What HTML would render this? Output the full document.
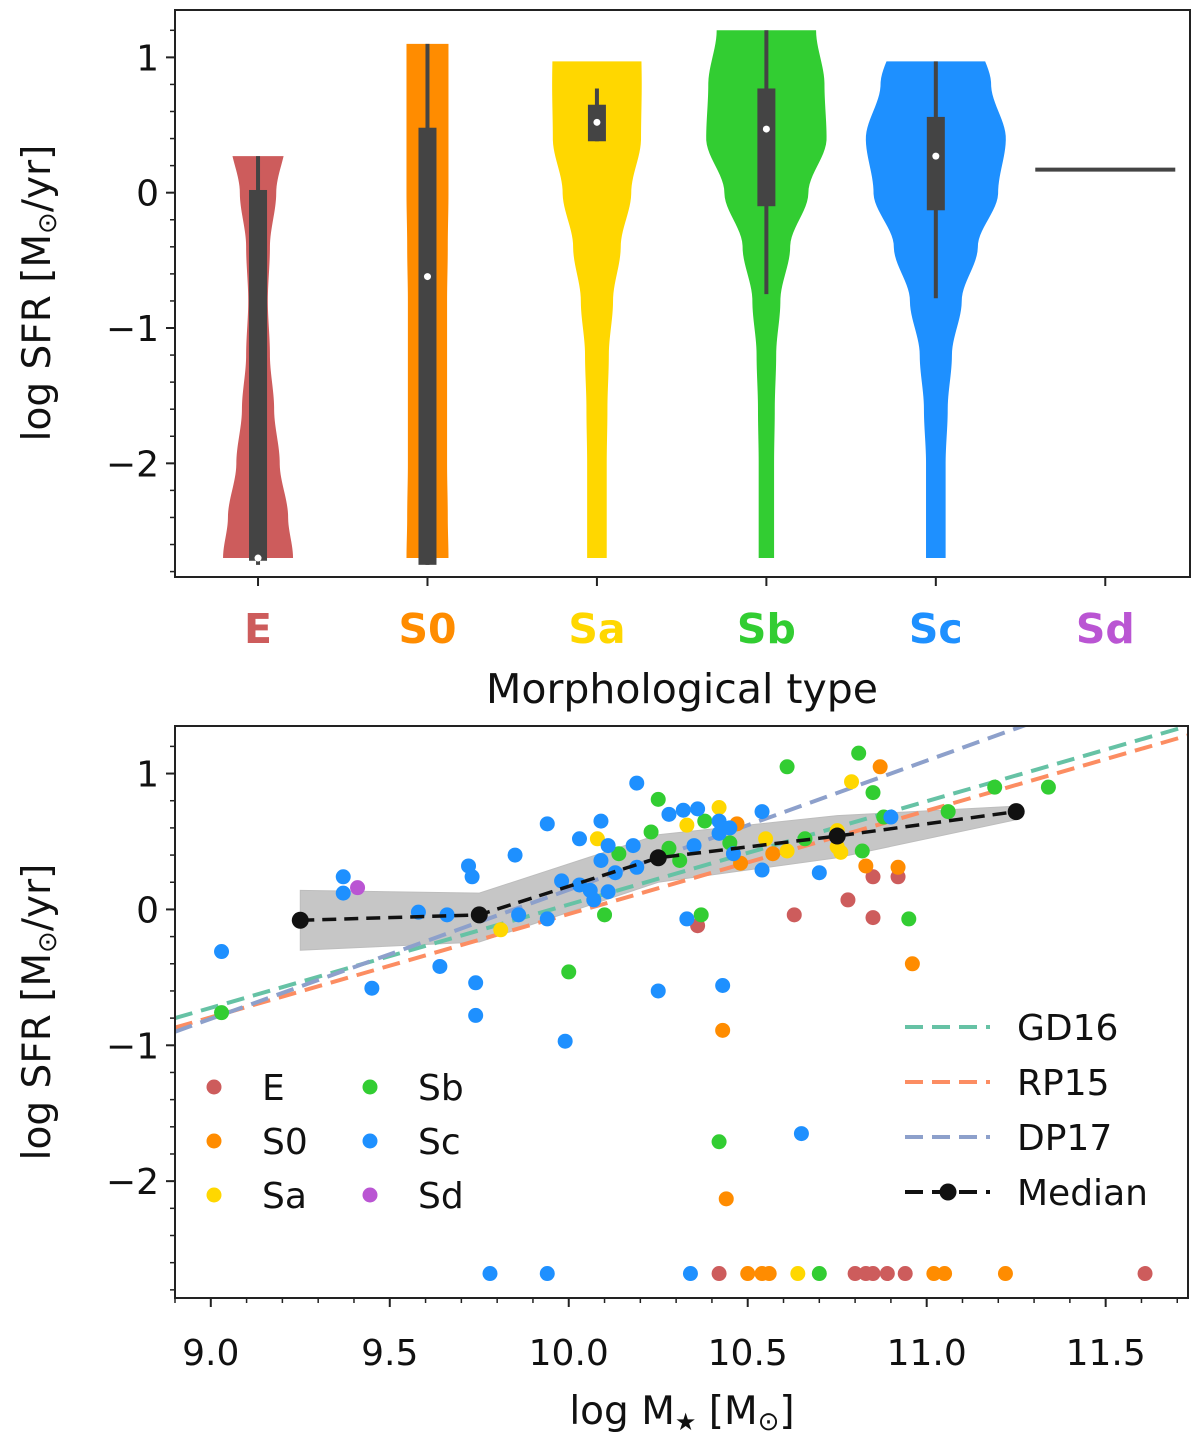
<!DOCTYPE html>
<html><head><meta charset="utf-8"><style>
body{margin:0;background:#fff}
svg{display:block;font-family:"DejaVu Sans","Liberation Sans",sans-serif}
</style></head><body>
<svg id="fig" width="1200" height="1443" viewBox="0 0 1200 1443">
<g id="topPanel"></g>
<g id="botPanel"></g>
</svg>
<script>
// ---------- data: violin panel ----------
const categories = ["E","S0","Sa","Sb","Sc","Sd"];
const catColors = ["#cd5c5c","#ff8c00","#ffd700","#32cd32","#1e90ff","#ba55d3"];
const densityLevels = [-2.7,-2.4,-2.0,-1.6,-1.2,-0.8,-0.4,0.0,0.4,0.8,1.2];
const densE  = [.50,.43,.31,.23,.17,.14,.17,.26,.40,.40,.40];
const densS0 = [.30,.29,.28,.28,.28,.28,.29,.30,.30,.30,.30];
const densSa = [.14,.14,.14,.15,.17,.23,.34,.49,.63,.64,.63];
const densSb = [.11,.11,.11,.12,.14,.20,.34,.60,.86,.83,.71];
const densSc = [.14,.14,.14,.17,.23,.37,.60,.89,1.0,.79,.57];
const violinMin = [-2.7,-2.7,-2.7,-2.7,-2.7];
const violinMax = [0.27,1.1,0.97,1.2,0.97];
const whiskLo = [-2.75,-2.75,0.38,-0.75,-0.78];
const whiskHi = [0.27,1.1,0.77,1.2,0.97];
const q1 = [-2.72,-2.75,0.38,-0.1,-0.13];
const q3 = [0.02,0.48,0.65,0.77,0.56];
const medians = [-2.7,-0.62,0.52,0.47,0.27];
const sdValue = 0.17;
const topYTicks = [1,0,-1,-2];

// ---------- data: scatter panel ----------
const xTicks = [9.0,9.5,10.0,10.5,11.0,11.5];
const yTicks = [1,0,-1,-2];
const ptType = [];
const ptX = [];
const ptY = [];
function P(t,arr){for(let i=0;i<arr.length;i+=2){ptType.push(t);ptX.push(arr[i]);ptY.push(arr[i+1]);}}
const sE  = [10.36,-0.12,10.63,-0.04,10.78,0.07,10.85,-0.06,10.85,0.24,10.92,0.24,
  10.42,-2.68,10.80,-2.68,10.83,-2.68,10.85,-2.68,10.89,-2.68,10.94,-2.68,11.61,-2.68];
const sS0 = [10.47,0.63,10.48,0.34,10.57,0.41,10.83,0.32,10.87,1.05,10.92,0.31,10.96,-0.40,
  10.43,-0.89,10.44,-2.13,10.50,-2.68,10.54,-2.68,10.56,-2.68,11.02,-2.68,11.05,-2.68,11.22,-2.68];
const sSa = [9.81,-0.15,10.08,0.52,10.33,0.62,10.42,0.75,10.55,0.52,10.61,0.43,10.75,0.58,10.75,0.46,
  10.76,0.42,10.79,0.94,10.64,-2.68];
const sSb = [9.03,-0.76,10.00,-0.46,10.10,-0.04,10.14,0.41,10.23,0.57,10.25,0.81,10.28,0.45,10.31,0.36,
  10.38,0.65,10.37,-0.04,10.45,0.49,10.61,1.05,10.66,0.52,10.81,1.15,10.82,0.43,10.85,0.86,10.88,0.68,
  10.95,-0.07,11.06,0.72,11.19,0.90,11.34,0.90,10.42,-1.71,10.70,-2.68];
const sSc = [9.03,-0.31,9.37,0.24,9.37,0.12,9.45,-0.58,9.58,-0.02,9.64,-0.42,9.66,-0.04,9.72,0.32,9.73,0.24,
  9.74,-0.54,9.74,-0.78,9.85,0.40,9.86,-0.04,9.94,0.63,9.94,-0.07,9.99,-0.97,9.98,0.21,10.03,0.52,10.09,0.65,
  10.11,0.47,10.18,0.47,10.19,0.31,10.09,0.36,10.06,0.14,10.07,0.07,10.11,0.13,10.03,0.18,10.13,0.27,
  10.19,0.93,10.28,0.70,10.32,0.73,10.36,0.74,10.25,-0.60,10.33,-0.07,10.35,0.47,10.42,0.65,10.45,0.60,
  10.42,0.56,10.46,0.41,10.54,0.72,10.54,0.29,10.70,0.27,10.90,0.68,10.43,-0.56,10.65,-1.65,
  9.78,-2.68,9.94,-2.68,10.34,-2.68];
const sSd = [9.41,0.16];
P(0,sE);P(1,sS0);P(2,sSa);P(3,sSb);P(4,sSc);P(5,sSd);
const medX = [9.25,9.75,10.25,10.75,11.25];
const medY = [-0.08,-0.04,0.38,0.54,0.72];
const bandLo = [-0.30,-0.24,0.20,0.38,0.66];
const bandHi = [0.14,0.12,0.55,0.69,0.76];
const relNames = ["GD16","RP15","DP17"];
const relSlope = [0.76,0.76,0.95];
const relIcpt = [-0.80,-0.87,-0.90]; // value at log M = 8.9
const relColors = ["#66c2a5","#fc8d62","#8da0cb"];

// ---------- helpers ----------
const NS="http://www.w3.org/2000/svg";
function mk(parent,tag,attrs){const e=document.createElementNS(NS,tag);for(const k in attrs)e.setAttribute(k,attrs[k]);parent.appendChild(e);return e;}

// ---------- top panel ----------
const topG=document.getElementById('topPanel');
const TX0=175,TX1=1190,TY0=10,TY1=577;
const ty=v=>TY0+(1.35-v)/(1.35+2.84)*(TY1-TY0);
const tx=i=>TX0+(i+0.49)/5.99*(TX1-TX0);
const dens=[densE,densS0,densSa,densSb,densSc];
function interp(arr,v){for(let i=0;i<densityLevels.length-1;i++){if(v<=densityLevels[i+1]){let f=(v-densityLevels[i])/(densityLevels[i+1]-densityLevels[i]);f=f*f*(3-2*f);return arr[i]+f*(arr[i+1]-arr[i]);}}return arr[arr.length-1];}
for(let i=0;i<5;i++){
  const cx=tx(i);const L=[],R=[];
  for(let k=0;k<=120;k++){const v=violinMin[i]+(violinMax[i]-violinMin[i])*k/120;const w=interp(dens[i],Math.max(-2.7,v))*70;R.push([cx+w,ty(v)]);L.push([cx-w,ty(v)]);}
  const pts=R.concat(L.reverse()).map(p=>p.join(',')).join(' ');
  const v=mk(topG,'polygon',{points:pts,fill:catColors[i]});
  
  
  const w=mk(topG,'line',{x1:cx,x2:cx,y1:ty(whiskLo[i]),y2:ty(whiskHi[i]),stroke:'#444',"stroke-width":4});
  
  
  const b=mk(topG,'rect',{x:cx-9,y:ty(q3[i]),width:18,height:Math.max(2,ty(q1[i])-ty(q3[i])),fill:'#444'});
  
  
  const m=mk(topG,'circle',{cx:cx,cy:ty(medians[i]),r:3.5,fill:'#fff'});
  
  
}
const sd=mk(topG,'line',{x1:tx(5)-70,x2:tx(5)+70,y1:ty(sdValue),y2:ty(sdValue),stroke:'#444',"stroke-width":4});


mk(topG,'rect',{x:TX0,y:TY0,width:TX1-TX0,height:TY1-TY0,fill:'none',stroke:'#222',"stroke-width":2});
for(let v=-2.8;v<=1.3;v+=0.2){const y=ty(v);mk(topG,'line',{x1:TX0,x2:TX0-5,y1:y,y2:y,stroke:'#222',"stroke-width":1.5});}
topYTicks.forEach(v=>{const y=ty(v);mk(topG,'line',{x1:TX0,x2:TX0-9,y1:y,y2:y,stroke:'#222',"stroke-width":2});
  const t=mk(topG,'text',{x:TX0-16,y:y+13,"font-size":36,"text-anchor":"end",fill:'#111'});t.textContent=v<0?'\u2212'+(-v):String(v);
  
  });
categories.forEach((c,i)=>{const x=tx(i);mk(topG,'line',{x1:x,x2:x,y1:TY1,y2:TY1+9,stroke:'#222',"stroke-width":2});
  const t=mk(topG,'text',{x:x,y:643,"font-size":41,"font-weight":"bold","text-anchor":"middle",fill:catColors[i]});t.textContent=c;
  
  });
let tt=mk(topG,'text',{x:682,y:703,"font-size":41,"text-anchor":"middle",fill:'#111'});tt.textContent='Morphological type';


tt=mk(topG,'text',{transform:'translate(50,293) rotate(-90)',"font-size":39,"text-anchor":"middle",fill:'#111'});
tt.innerHTML='log SFR [M<tspan font-size="26" dy="6">\u2299</tspan><tspan dy="-6">/yr]</tspan>';



// ---------- bottom panel ----------
const botG=document.getElementById('botPanel');
const BX0=175,BX1=1188,BY0=726,BY1=1298;
const XMIN=8.9,XMAX=11.73,YMIN=-2.86,YMAX=1.35;
const bx=v=>BX0+(v-XMIN)/(XMAX-XMIN)*(BX1-BX0);
const by=v=>BY0+(YMAX-v)/(YMAX-YMIN)*(BY1-BY0);
const clip=mk(botG,'clipPath',{id:'clipB'});
mk(clip,'rect',{x:BX0,y:BY0,width:BX1-BX0,height:BY1-BY0});
const plot=mk(botG,'g',{"clip-path":"url(#clipB)"});
let bp=medX.map((x,i)=>bx(x)+','+by(bandHi[i])).concat(medX.map((x,i)=>bx(x)+','+by(bandLo[i])).reverse()).join(' ');
const band=mk(plot,'polygon',{points:bp,fill:'#999',opacity:0.55,stroke:'#888',"stroke-width":1});


relNames.forEach((n,i)=>{const l=mk(plot,'line',{x1:bx(XMIN),y1:by(relIcpt[i]),x2:bx(XMAX),y2:by(relIcpt[i]+relSlope[i]*(XMAX-XMIN)),stroke:relColors[i],"stroke-width":4,"stroke-dasharray":"18 9"});
  
  });
for(let i=0;i<ptX.length;i++){const c=mk(plot,'circle',{cx:bx(ptX[i]),cy:by(ptY[i]),r:7.5,fill:catColors[ptType[i]]});
  
  }
const ml=mk(plot,'polyline',{points:medX.map((x,i)=>bx(x)+','+by(medY[i])).join(' '),fill:'none',stroke:'#111',"stroke-width":3.5,"stroke-dasharray":"14 8"});


medX.forEach((x,i)=>{const c=mk(plot,'circle',{cx:bx(x),cy:by(medY[i]),r:8.5,fill:'#111'});
  
  });
mk(botG,'rect',{x:BX0,y:BY0,width:BX1-BX0,height:BY1-BY0,fill:'none',stroke:'#222',"stroke-width":2});
for(let v=8.9;v<=11.71;v+=0.1){const x=bx(v);mk(botG,'line',{x1:x,x2:x,y1:BY1,y2:BY1+5,stroke:'#222',"stroke-width":1.5});}
for(let v=-2.8;v<=1.3;v+=0.2){const y=by(v);mk(botG,'line',{x1:BX0,x2:BX0-5,y1:y,y2:y,stroke:'#222',"stroke-width":1.5});}
xTicks.forEach(v=>{const x=bx(v);mk(botG,'line',{x1:x,x2:x,y1:BY1,y2:BY1+9,stroke:'#222',"stroke-width":2});
  const t=mk(botG,'text',{x:x,y:1365,"font-size":36,"text-anchor":"middle",fill:'#111'});t.textContent=v.toFixed(1);
  
  });
yTicks.forEach(v=>{const y=by(v);mk(botG,'line',{x1:BX0,x2:BX0-9,y1:y,y2:y,stroke:'#222',"stroke-width":2});
  const t=mk(botG,'text',{x:BX0-16,y:y+13,"font-size":36,"text-anchor":"end",fill:'#111'});t.textContent=v<0?'\u2212'+(-v):String(v);
  
  });
tt=mk(botG,'text',{x:682,y:1424,"font-size":39,"text-anchor":"middle",fill:'#111'});
tt.innerHTML='log M<tspan font-size="24" dy="6">\u2605</tspan><tspan dy="-6"> [M</tspan><tspan font-size="26" dy="6">\u2299</tspan><tspan dy="-6">]</tspan>';


tt=mk(botG,'text',{transform:'translate(50,1012) rotate(-90)',"font-size":39,"text-anchor":"middle",fill:'#111'});
tt.innerHTML='log SFR [M<tspan font-size="26" dy="6">\u2299</tspan><tspan dy="-6">/yr]</tspan>';


const legPos=[[214,1087],[214,1141],[214,1195],[370,1087],[370,1141],[370,1195]];
categories.forEach((c,i)=>{const [x,y]=legPos[i];
  const g=mk(botG,'g',{});
  
  
  mk(g,'circle',{cx:x,cy:y,r:7.5,fill:catColors[i]});
  const t=mk(g,'text',{x:x+48,y:y+13,"font-size":36,fill:'#111'});t.textContent=c;});
const rl=relNames.concat(["Median"]);
rl.forEach((n,i)=>{const y=1027+i*55;
  const g=mk(botG,'g',{});
  
  
  mk(g,'line',{x1:905,x2:990,y1:y,y2:y,stroke:i<3?relColors[i]:'#111',"stroke-width":4,"stroke-dasharray":"18 9"});
  if(i===3)mk(g,'circle',{cx:948,cy:y,r:8.5,fill:'#111'});
  const t=mk(g,'text',{x:1017,y:y+13,"font-size":36,fill:'#111'});t.textContent=n;});
</script>
</body></html>
